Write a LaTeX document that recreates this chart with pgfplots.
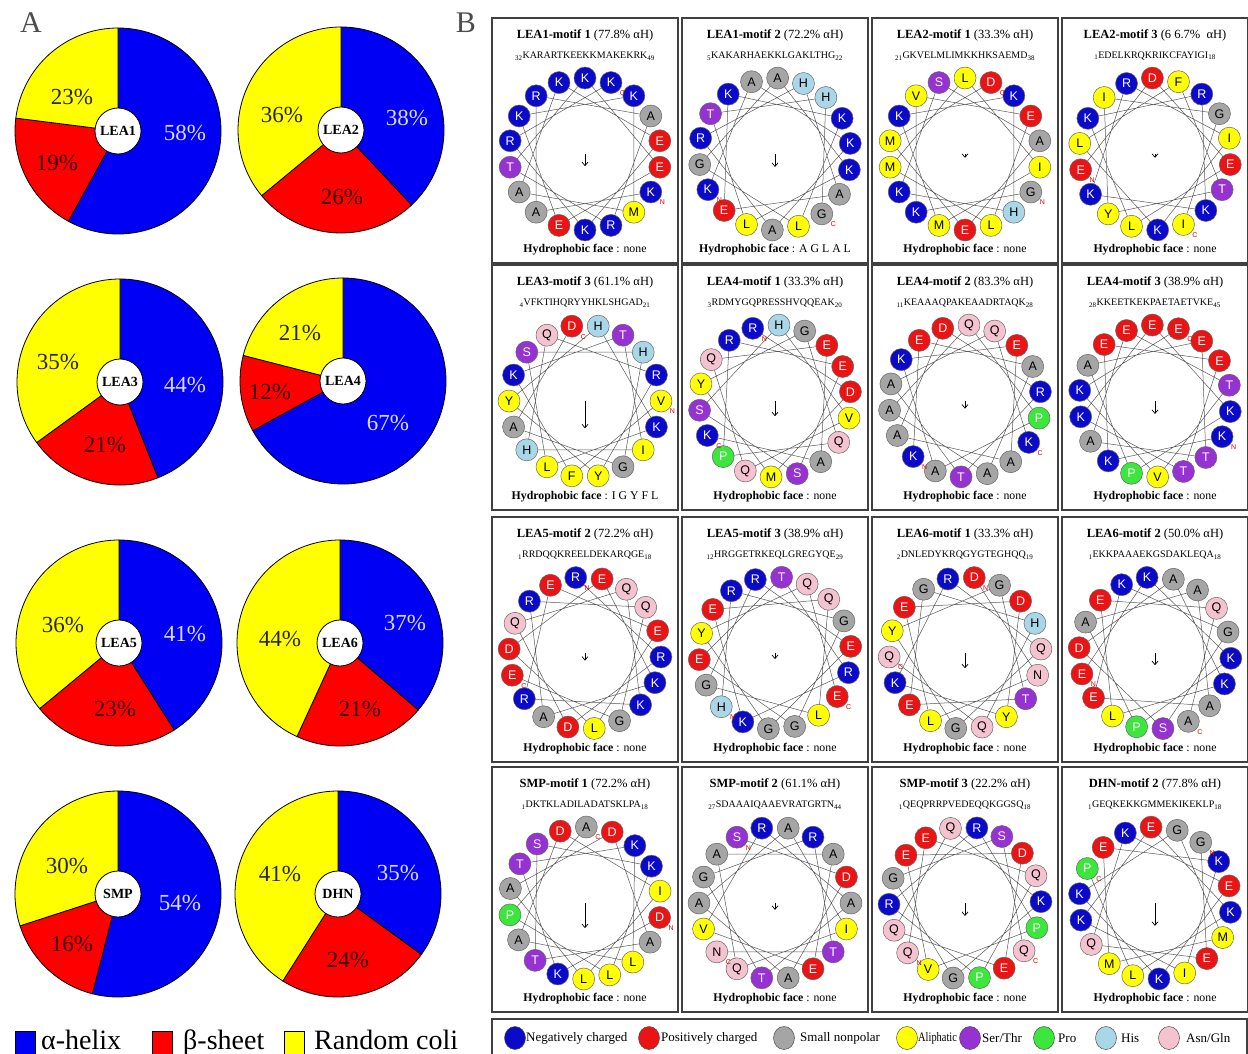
\documentclass[border=0pt]{standalone}
\usepackage{fontspec}
\setmainfont{Liberation Serif}
\newfontfamily\sansf{Liberation Sans}
\usepackage{pgfplots}
\usepackage{pgfplotstable}
\pgfplotsset{compat=1.18}
\usepgfplotslibrary{polar}
\usetikzlibrary{arrows.meta}

% pie colours
\definecolor{pblue}{RGB}{0,0,245}
\definecolor{pred}{RGB}{255,0,0}
\definecolor{pyel}{RGB}{255,255,0}
% residue classes
\definecolor{cblue}{RGB}{10,10,200}
\definecolor{cred}{RGB}{235,20,20}
\definecolor{cgray}{RGB}{165,165,165}
\definecolor{cyel}{RGB}{255,255,0}
\definecolor{cpur}{RGB}{150,50,210}
\definecolor{cgrn}{RGB}{60,230,60}
\definecolor{chis}{RGB}{170,215,232}
\definecolor{cpink}{RGB}{245,195,208}

\newcommand\sq[3]{\textsubscript{#1}#2\textsubscript{#3}}

% residues whose letter is set in white
\def\setwhite#1{\expandafter\def\csname wt#1\endcsname{1}}
\setwhite K\setwhite R\setwhite D\setwhite E\setwhite S\setwhite T\setwhite P
\newcommand\resletter{\ifcsname wt\pgfplotspointmeta\endcsname\color{white}\fi\pgfplotspointmeta}

\tikzset{
  frame/.style={draw=black!75, line width=1.5pt},
  pieline/.style={draw=black, line width=0.8pt},
  pct/.style={font=\fontsize{23}{23}\selectfont, inner sep=0pt},
  legtxt/.style={anchor=west, inner sep=0pt, font=\fontsize{13}{13}\selectfont},
  legdot/.style={draw=black!70, line width=0.5pt},
}

\pgfplotsset{
  wheelaxis/.style={hide axis, grid=none, xtick=\empty, ytick=\empty,
    scale only axis, width=152pt, height=152pt,
    xmin=0, xmax=360, ymin=0, ymax=1, clip=false, anchor=center},
  pieaxis/.style={hide axis, scale only axis, width=206pt, height=206pt,
    xmin=-1, xmax=1, ymin=-1, ymax=1, clip=false, anchor=center},
  wheelchord/.style={draw=black!65, line width=0.5pt, mark=none},
  wheelres/.style={scatter, only marks, mark=*, mark size=11pt,
    mark options={line width=0.5pt}, scatter src=explicit symbolic,
    scatter/classes={
      K={fill=cblue,draw=black!60}, R={fill=cblue,draw=black!60},
      D={fill=cred,draw=black!60}, E={fill=cred,draw=black!60},
      A={fill=cgray,draw=black!60}, G={fill=cgray,draw=black!60},
      V={fill=cyel,draw=black!60}, L={fill=cyel,draw=black!60},
      I={fill=cyel,draw=black!60}, M={fill=cyel,draw=black!60},
      F={fill=cyel,draw=black!60}, Y={fill=cyel,draw=black!60},
      W={fill=cyel,draw=black!60}, C={fill=cyel,draw=black!60},
      S={fill=cpur,draw=black!60}, T={fill=cpur,draw=black!60},
      P={fill=cgrn,draw=black!60}, H={fill=chis,draw=black!60},
      N={fill=cpink,draw=black!60}, Q={fill=cpink,draw=black!60}}},
  wheelletters/.style={only marks, mark=none, point meta=explicit symbolic,
    nodes near coords={\resletter}, nodes near coords align={center},
    every node near coord/.append style={font=\sansf\fontsize{12.5}{12.5}\selectfont, inner sep=0pt}},
  moment/.style={-{Straight Barb[length=3.5pt,width=6pt]}, line width=0.7pt, black, mark=none},
  termini/.style={only marks, mark=none, point meta=explicit symbolic,
    nodes near coords={\pgfplotspointmeta}, nodes near coords align={center},
    every node near coord/.append style={text=red!85!black, font=\sansf\fontsize{7}{7}\selectfont,
      inner sep=0pt, xshift=11.5pt, yshift=-10.5pt}},
}

% secondary structure content (%) and where the labels sit
\pgfplotstableread{
name cx  cy  helix sheet coil hx hy sx  sy rx  ry
LEA1 118 131 58    19    23   67 2   -61 32 -46 -34
LEA2 341 130 38    26    36   66 -12 1   67 -59 -15
LEA3 120 382 44    21    35   65 3   -15 63 -62 -20
LEA4 343 381 67    12    21   45 42  -73 11 -43 -48
LEA5 119 643 41    23    36   66 -9  -4  66 -56 -18
LEA6 340 643 37    21    44   65 -20 20  66 -60 -4
SMP  118 894 54    16    30   62 9   -46 50 -51 -28
DHN  338 894 35    24    41   60 -21 10  66 -58 -20
}\piedata

% residues of each motif, in sequence order (one column per wheel)
\pgfplotstableread{
i  p1 p2 p3 p4 p5 p6 p7 p8 p9 p10 p11 p12 p13 p14 p15 p16
1  K  K  G  E  V  R  K  K  R  H   D   E   D   S   Q   G
2  A  A  K  D  F  D  E  K  R  R   N   K   K   D   E   E
3  R  K  V  E  K  M  A  E  D  G   L   K   T   A   Q   Q
4  A  A  E  L  T  Y  A  E  Q  G   E   P   K   A   P   K
5  R  R  L  K  I  G  A  T  Q  E   D   A   L   A   R   E
6  T  H  M  R  H  Q  Q  K  K  T   Y   A   A   I   R   K
7  K  A  L  K  Q  P  P  E  R  R   K   A   D   Q   P   K
8  E  E  I  K  R  R  A  K  E  K   R   E   I   A   V   G
9  E  K  M  R  Y  E  K  P  E  E   Q   K   L   A   E   M
10 K  K  K  I  Y  S  E  A  L  Q   G   G   A   E   D   M
11 K  L  K  K  H  S  A  E  D  L   Y   S   D   V   E   E
12 M  G  H  L  K  H  A  T  E  G   G   D   A   R   Q   K
13 A  A  K  F  L  V  D  A  K  R   T   A   T   A   Q   I
14 K  K  S  T  S  Q  R  E  A  E   E   K   S   T   K   K
15 E  L  A  Y  H  Q  T  T  R  G   G   L   K   G   G   E
16 K  T  E  I  G  E  A  V  Q  Y   H   E   L   R   G   K
17 R  H  M  G  A  A  Q  K  G  Q   Q   Q   P   T   S   L
18 K  G  D  I  D  K  K  E  E  E   Q   A   A   N   Q   P
}\wheeldata

% #1 left, #2 top, #3 column, #4 angle of residue 1, #5 moment length,
% #6 motif, #7 helix content, #8 sequence, #9 hydrophobic face
\newcommand\wheel[9]{%
  \draw[frame] (#1pt,-#2pt) rectangle ({(#1+186)*1pt},{-(#2+245)*1pt});
  \node[font=\fontsize{12.5}{13}\selectfont] at ({(#1+93)*1pt},{-(#2+17)*1pt}) {\textbf{#6} (#7)};
  \node[font=\fontsize{10}{11}\selectfont] at ({(#1+93)*1pt},{-(#2+38)*1pt}) {#8};
  \node[font=\fontsize{11.8}{12}\selectfont] at ({(#1+93)*1pt},{-(#2+232)*1pt}) {\textbf{Hydrophobic face} : #9};
  \pgfmathsetmacro\cang{mod(#4+100,360)}%
  \begin{polaraxis}[wheelaxis, at={({(#1+93)*1pt},{-(#2+136)*1pt})}]
    \addplot[wheelchord] table[x expr={mod(#4-100*(\thisrow{i}-1)+3600,360)}, y expr=1] \wheeldata;
    \addplot[wheelres] table[x expr={mod(#4-100*(\thisrow{i}-1)+3600,360)}, y expr=1, meta=#3] \wheeldata;
    \addplot[wheelletters] table[x expr={mod(#4-100*(\thisrow{i}-1)+3600,360)}, y expr=1, meta=#3] \wheeldata;
    \addplot[moment] coordinates {(270,0) (270,#5)};
    \addplot[termini] coordinates {(#4,1) [N] (\cang,1) [C]};
  \end{polaraxis}
}

\begin{document}
\begin{tikzpicture}
\useasboundingbox (0,0) rectangle (1248pt,-1054pt);

\node[anchor=base, font=\fontsize{30}{30}\selectfont, text=black!70] at (31pt,-33pt) {A};
\node[anchor=base, font=\fontsize{30}{30}\selectfont, text=black!70] at (466pt,-33pt) {B};

% ---- A: secondary structure pies
\foreach \k in {0,...,7}{
  \pgfplotstablegetelem{\k}{name}\of\piedata \let\pname\pgfplotsretval
  \pgfplotstablegetelem{\k}{cx}\of\piedata \let\pcx\pgfplotsretval
  \pgfplotstablegetelem{\k}{cy}\of\piedata \let\pcy\pgfplotsretval
  \pgfplotstablegetelem{\k}{helix}\of\piedata \let\ph\pgfplotsretval
  \pgfplotstablegetelem{\k}{sheet}\of\piedata \let\ps\pgfplotsretval
  \pgfplotstablegetelem{\k}{coil}\of\piedata \let\pc\pgfplotsretval
  \pgfplotstablegetelem{\k}{hx}\of\piedata \pgfmathsetmacro\hxa{\pgfplotsretval/103}
  \pgfplotstablegetelem{\k}{hy}\of\piedata \pgfmathsetmacro\hya{-1*(\pgfplotsretval)/103}
  \pgfplotstablegetelem{\k}{sx}\of\piedata \pgfmathsetmacro\sxa{\pgfplotsretval/103}
  \pgfplotstablegetelem{\k}{sy}\of\piedata \pgfmathsetmacro\sya{-1*(\pgfplotsretval)/103}
  \pgfplotstablegetelem{\k}{rx}\of\piedata \pgfmathsetmacro\rxa{\pgfplotsretval/103}
  \pgfplotstablegetelem{\k}{ry}\of\piedata \pgfmathsetmacro\rya{-1*(\pgfplotsretval)/103}
  \pgfmathsetmacro\atot{\ph+\ps+\pc}
  \pgfmathsetmacro\aone{90-360*(\ph/\atot)}
  \pgfmathsetmacro\atwo{90-360*((\ph+\ps)/\atot)}
  \begin{axis}[pieaxis, at={(\pcx*1pt,-\pcy*1pt)}]
    \filldraw[fill=pblue, pieline] (axis cs:0,0) -- (axis cs:0,1)
      arc[start angle=90, end angle=\aone, radius=103pt] -- cycle;
    \filldraw[fill=pred, pieline] (axis cs:0,0) -- ++(\aone:103pt)
      arc[start angle=\aone, end angle=\atwo, radius=103pt] -- cycle;
    \filldraw[fill=pyel, pieline] (axis cs:0,0) -- ++(\atwo:103pt)
      arc[start angle=\atwo, end angle=-270, radius=103pt] -- cycle;
    \filldraw[fill=white, pieline] (axis cs:0,0) circle[radius=23pt];
    \node[font=\bfseries\fontsize{14}{14}\selectfont] at (axis cs:0,0) {\pname};
    \node[pct, text=white!86!blue] at (axis cs:\hxa,\hya) {\ph\%};
    \node[pct, text=black!80!red] at (axis cs:\sxa,\sya) {\ps\%};
    \node[pct, text=black!85] at (axis cs:\rxa,\rya) {\pc\%};
  \end{axis}
}

% legend of panel A
\filldraw[fill=pblue, draw=black, line width=0.6pt] (15pt,-1031pt) rectangle (35pt,-1064pt);
\node[anchor=base west, inner sep=0pt, font=\fontsize{28}{28}\selectfont] at (41pt,-1049pt) {α-helix};
\filldraw[fill=pred, draw=black, line width=0.6pt] (152pt,-1031pt) rectangle (172pt,-1064pt);
\node[anchor=base west, inner sep=0pt, font=\fontsize{28}{28}\selectfont] at (183pt,-1049pt) {β-sheet};
\filldraw[fill=pyel, draw=black, line width=0.6pt] (284pt,-1031pt) rectangle (304pt,-1064pt);
\node[anchor=base west, inner sep=0pt, font=\fontsize{28}{28}\selectfont] at (314pt,-1049pt) {Random coli};

% ---- B: helical wheels
\wheel{492}{18}{p1}{330}{0.16}{LEA1-motif 1}{77.8\% αH}{\sq{32}{KARARTKEEKKMAKEKRK}{49}}{none}
\wheel{682}{18}{p2}{208}{0.17}{LEA1-motif 2}{72.2\% αH}{\sq{5}{KAKARHAEKKLGAKLTHG}{22}}{A G L A L}
\wheel{872}{18}{p3}{330}{0.05}{LEA2-motif 1}{33.3\% αH}{\sq{21}{GKVELMLIMKKHKSAEMD}{38}}{none}
\wheel{1062}{18}{p4}{192}{0.05}{LEA2-motif 3}{6 6.7\%\ \ αH}{\sq{1}{EDELKRQKRIKCFAYIGI}{18}}{none}
\wheel{492}{265}{p5}{0}{0.36}{LEA3-motif 3}{61.1\% αH}{\sq{4}{VFKTIHQRYYHKLSHGAD}{21}}{I G Y F L}
\wheel{682}{265}{p6}{107}{0.2}{LEA4-motif 1}{33.3\% αH}{\sq{3}{RDMYGQPRESSHVQQEAK}{20}}{none}
\wheel{872}{265}{p7}{227}{0.1}{LEA4-motif 2}{83.3\% αH}{\sq{11}{KEAAAQPAKEAADRTAQK}{28}}{none}
\wheel{1062}{265}{p8}{332}{0.17}{LEA4-motif 3}{38.9\% αH}{\sq{28}{KKEETKEKPAETAETVKE}{45}}{none}
\wheel{492}{517}{p9}{97}{0.1}{LEA5-motif 2}{72.2\% αH}{\sq{1}{RRDQQKREELDEKARQGE}{18}}{none}
\wheel{682}{517}{p10}{225}{0.08}{LEA5-motif 3}{38.9\% αH}{\sq{12}{HRGGETRKEQLGREGYQE}{29}}{none}
\wheel{872}{517}{p11}{83}{0.2}{LEA6-motif 1}{33.3\% αH}{\sq{2}{DNLEDYKRQGYGTEGHQQ}{19}}{none}
\wheel{1062}{517}{p12}{196}{0.16}{LEA6-motif 2}{50.0\% αH}{\sq{1}{EKKPAAAEKGSDAKLEQA}{18}}{none}
\wheel{492}{767}{p13}{349}{0.33}{SMP-motif 1}{72.2\% αH}{\sq{1}{DKTKLADILADATSKLPA}{18}}{none}
\wheel{682}{767}{p14}{120}{0.09}{SMP-motif 2}{61.1\% αH}{\sq{27}{SDAAAIQAAEVRATGRTN}{44}}{none}
\wheel{872}{767}{p15}{221}{0.17}{SMP-motif 3}{22.2\% αH}{\sq{1}{QEQPRRPVEDEQQKGGSQ}{18}}{none}
\wheel{1062}{767}{p16}{53}{0.3}{DHN-motif 2}{77.8\% αH}{\sq{1}{GEQKEKKGMMEKIKEKLP}{18}}{none}

% legend of panel B
\draw[frame] (492pt,-1019pt) rectangle (1247pt,-1064pt);
\filldraw[fill=cblue, legdot] (515pt,-1038pt) ellipse[x radius=10.5pt, y radius=11.5pt];
\node[legtxt] at (526pt,-1038pt) {Negatively charged};
\filldraw[fill=cred, legdot] (649pt,-1038pt) ellipse[x radius=10.5pt, y radius=11.5pt];
\node[legtxt] at (661pt,-1038pt) {Positively charged};
\filldraw[fill=cgray, legdot] (784pt,-1038pt) ellipse[x radius=10.5pt, y radius=11.5pt];
\node[legtxt] at (800pt,-1038pt) {Small nonpolar};
\filldraw[fill=cyel, legdot] (907pt,-1038pt) ellipse[x radius=10.5pt, y radius=11.5pt];
\node[legtxt] at (918pt,-1038pt) {\scalebox{0.8}[1]{Aliphatic}};
\filldraw[fill=cpur, legdot] (970pt,-1038pt) ellipse[x radius=10.5pt, y radius=11.5pt];
\node[legtxt] at (982pt,-1038pt) {Ser/Thr};
\filldraw[fill=cgrn, legdot] (1044pt,-1038pt) ellipse[x radius=10.5pt, y radius=11.5pt];
\node[legtxt] at (1058pt,-1038pt) {Pro};
\filldraw[fill=chis, legdot] (1106pt,-1038pt) ellipse[x radius=10.5pt, y radius=11.5pt];
\node[legtxt] at (1121pt,-1038pt) {His};
\filldraw[fill=cpink, legdot] (1169pt,-1038pt) ellipse[x radius=10.5pt, y radius=11.5pt];
\node[legtxt] at (1186pt,-1038pt) {Asn/Gln};
\end{tikzpicture}
\end{document}
